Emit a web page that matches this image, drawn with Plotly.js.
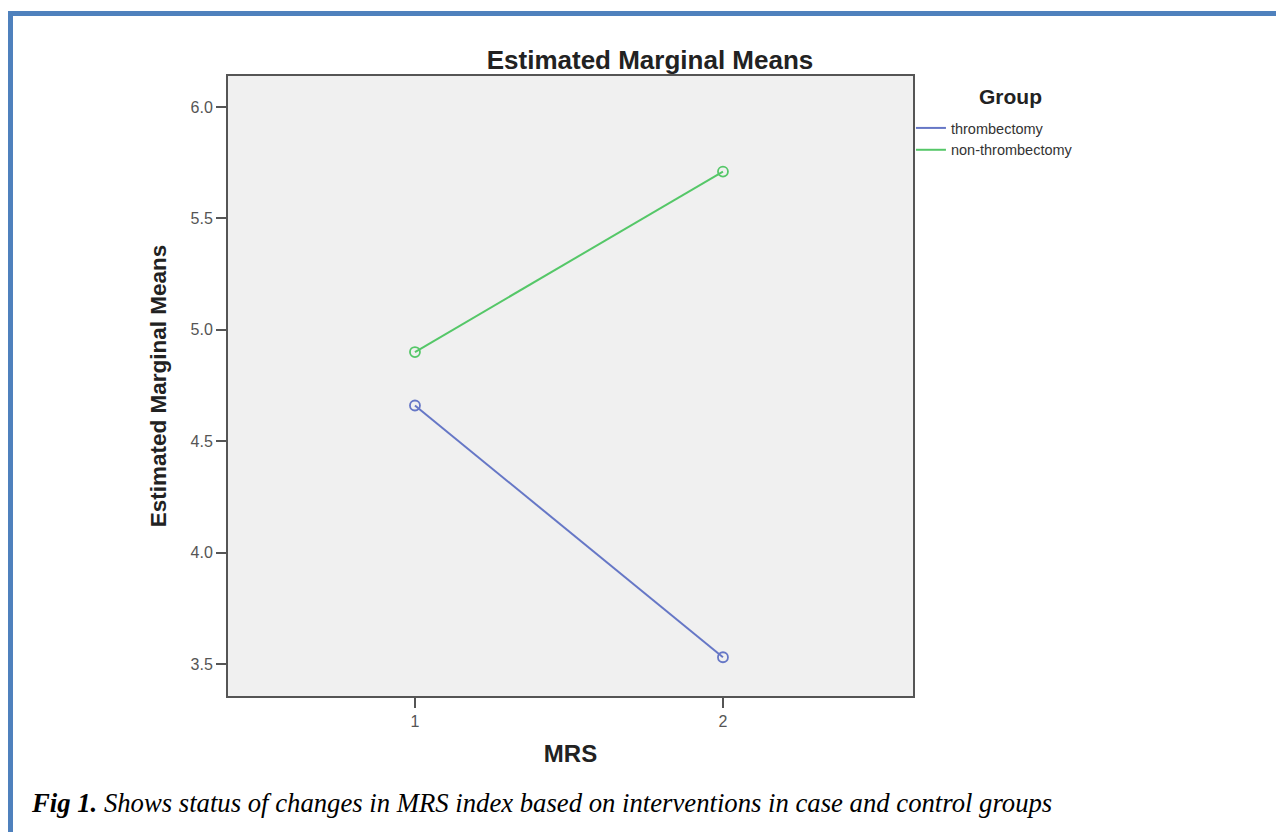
<!DOCTYPE html>
<html>
<head>
<meta charset="utf-8">
<script src="https://cdn.plot.ly/plotly-3.0.1.min.js"></script>
<style>
html,body{margin:0;padding:0;background:#fff;}
#frame{position:absolute;left:8px;top:11px;width:1268px;height:821px;border-top:5px solid #4f81bd;border-left:5px solid #4f81bd;box-sizing:border-box;}
#chart{position:absolute;left:0;top:0;width:1276px;height:832px;}
</style>
</head>
<body>
<div id="frame"></div>
<div id="chart"></div>
<script>
var mrs = [1, 2];
var thrombectomy = [4.66, 3.53];
var nonThrombectomy = [4.90, 5.71];
var seriesNames = ["thrombectomy", "non-thrombectomy"];
var seriesColors = ["#6677c6", "#55c768"];
var yTicks = [3.5, 4.0, 4.5, 5.0, 5.5, 6.0];
var yTickText = ["3.5", "4.0", "4.5", "5.0", "5.5", "6.0"];
var xTicks = [1, 2];
var xTickText = ["1", "2"];

var traces = [];
[thrombectomy, nonThrombectomy].forEach(function(v, i){
  traces.push({
    x: mrs, y: v, name: seriesNames[i], type: "scatter", mode: "lines+markers",
    showlegend: false,
    line: {color: seriesColors[i], width: 2},
    marker: {symbol: "circle-open", size: 10, color: seriesColors[i], line: {width: 1.8, color: seriesColors[i]}}
  });
});
// legend entries (lines only, as in the reference)
seriesNames.forEach(function(n, i){
  traces.push({x: [null], y: [null], name: n, type: "scatter", mode: "lines",
    line: {color: seriesColors[i], width: 2}, showlegend: true});
});

var F = "Liberation Sans, Arial, sans-serif";
var axisCommon = {
  showline: true, linecolor: "#555", linewidth: 2, mirror: true,
  ticks: "outside", ticklen: 10, tickwidth: 2, tickcolor: "#555",
  showgrid: false, zeroline: false,
  tickfont: {family: F, size: 16, color: "#555"}
};

var layout = {
  width: 1276, height: 832,
  margin: {l: 228, r: 363, t: 76, b: 136},
  paper_bgcolor: "rgba(0,0,0,0)",
  plot_bgcolor: "#f0f0f0",
  title: {text: "<b>Estimated Marginal Means</b>", x: 650/1276, xref: "container", xanchor: "center",
          y: 1 - 60/832, yref: "container", yanchor: "middle",
          font: {family: F, size: 26, color: "#222"}},
  xaxis: Object.assign({}, axisCommon, {
    range: [0.393, 2.617], tickvals: xTicks, ticktext: xTickText,
    title: {text: "<b>MRS</b>", standoff: 16, font: {family: F, size: 24, color: "#222"}}
  }),
  yaxis: Object.assign({}, axisCommon, {
    range: [3.356, 6.139], tickvals: yTicks, ticktext: yTickText,
    title: {text: "<b>Estimated Marginal Means</b>", standoff: 18, font: {family: F, size: 22.5, color: "#222"}}
  }),
  showlegend: true,
  legend: {
    x: 0.997, xanchor: "left", y: (696 - 112) / 620, yanchor: "top",
    bgcolor: "rgba(0,0,0,0)", borderwidth: 0,
    font: {family: F, size: 14.5, color: "#333"},
    itemwidth: 30, tracegroupgap: 0
  },
  annotations: [{
    xref: "paper", yref: "paper", x: (1010 - 228) / 685, y: (696 - 97) / 620,
    xanchor: "center", yanchor: "middle", showarrow: false,
    text: "<b>Group</b>", font: {family: F, size: 21, color: "#222"}
  }, {
    xref: "paper", yref: "paper", x: (29 - 228) / 685, y: (696 - 803) / 620, xanchor: "left", yanchor: "middle",
    showarrow: false, align: "left",
    text: "<b><i>Fig 1.</i></b><i> Shows status of changes in MRS index based on interventions in case and control groups</i>",
    font: {family: "Liberation Serif, Times New Roman, serif", size: 26.7, color: "#000"}
  }]
};

Plotly.newPlot("chart", traces, layout, {displayModeBar: false, staticPlot: true});
</script>
</body>
</html>
